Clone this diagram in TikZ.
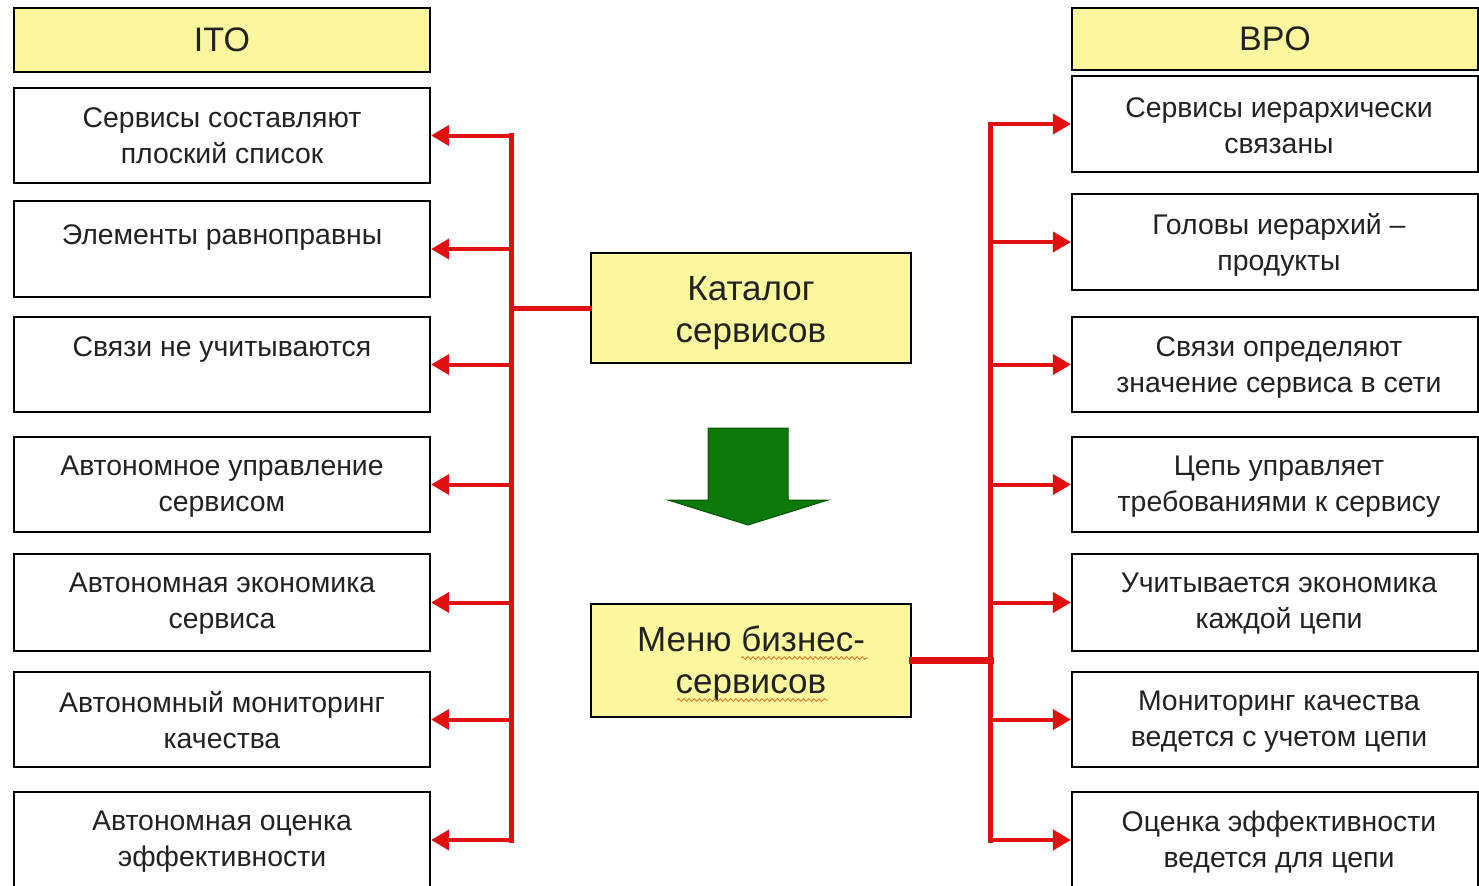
\documentclass[tikz,border=0pt]{standalone}
\usepackage{fontspec}
\setmainfont{Liberation Sans}
\usetikzlibrary{arrows.meta,decorations.pathmorphing}
\definecolor{boxyellow}{HTML}{FAF79E}
\definecolor{linkred}{HTML}{E01010}
\definecolor{arrowgreen}{HTML}{0B7A0B}
\definecolor{inkgray}{HTML}{222222}
\definecolor{spellmark}{HTML}{E07020}

\begin{document}
\begin{tikzpicture}[x=0.5pt,y=-0.5pt,
  frame/.style={draw=black, line width=1.1pt, inner sep=0pt},
  lcol/.style={frame, minimum width=208pt},
  rcol/.style={frame, minimum width=203pt},
  header/.style={fill=boxyellow, font=\fontsize{17}{20}\selectfont, text=inkgray},
  item/.style={fill=white},
  itemtext/.style={anchor=north, align=center, font=\fontsize{14.2}{18}\selectfont, text=inkgray, inner sep=0pt},
  central/.style={frame, fill=boxyellow, minimum width=160pt},
  centraltext/.style={align=center, font=\fontsize{17.5}{21}\selectfont, text=inkgray, inner sep=0pt},
  trunk/.style={draw=linkred, line width=2.5pt, line cap=rect},
  branch/.style={draw=linkred, line width=2pt, -{Triangle[length=9pt,width=10pt]}},
  spell/.style={draw=spellmark, line width=0.4pt, decorate, decoration={snake, amplitude=0.7pt, segment length=2.6pt}},
]
\useasboundingbox (0,0) rectangle (1479,885);
\clip (0,0) rectangle (1479,885);

% left column
\node[lcol, header, minimum height=32pt] (hl) at (222,40) {ITO};
\node[lcol, item, minimum height=47.5pt] (l1) at (222,135.5) {};
\node[lcol, item, minimum height=48pt]   (l2) at (222,249) {};
\node[lcol, item, minimum height=47.5pt] (l3) at (222,364.5) {};
\node[lcol, item, minimum height=47.5pt] (l4) at (222,484.5) {};
\node[lcol, item, minimum height=48.5pt] (l5) at (222,602.5) {};
\node[lcol, item, minimum height=47.5pt] (l6) at (222,719.5) {};
\node[lcol, item, minimum height=48pt]   (l7) at (222,840) {};

\node[itemtext] (tl1) at ([yshift=-10pt]l1.north) {Сервисы составляют\\плоский список};
\node[itemtext] (tl2) at ([yshift=-12pt]l2.north) {Элементы равноправны};
\node[itemtext] (tl3) at ([yshift=-10pt]l3.north) {Связи не учитываются};
\node[itemtext] (tl4) at ([yshift=-10pt]l4.north) {Автономное управление\\сервисом};
\node[itemtext] (tl5) at ([yshift=-10pt]l5.north) {Автономная экономика\\сервиса};
\node[itemtext] (tl6) at ([yshift=-10pt]l6.north) {Автономный мониторинг\\качества};
\node[itemtext] (tl7) at ([yshift=-10pt]l7.north) {Автономная оценка\\эффективности};

% right column
\node[rcol, header, minimum height=31pt] (hr) at (1275,39) {BPO};
\node[rcol, item, minimum height=48pt]   (r1) at (1275,124) {};
\node[rcol, item, minimum height=48pt]   (r2) at (1275,242) {};
\node[rcol, item, minimum height=47.5pt] (r3) at (1275,364.5) {};
\node[rcol, item, minimum height=47.5pt] (r4) at (1275,484.5) {};
\node[rcol, item, minimum height=48.5pt] (r5) at (1275,602.5) {};
\node[rcol, item, minimum height=47.5pt] (r6) at (1275,719.5) {};
\node[rcol, item, minimum height=48pt]   (r7) at (1275,840) {};

\node[itemtext] (tr1) at ([xshift=2pt,yshift=-11pt]r1.north) {Сервисы иерархически\\связаны};
\node[itemtext] (tr2) at ([xshift=2pt,yshift=-10pt]r2.north) {Головы иерархий –\\продукты};
\node[itemtext] (tr3) at ([xshift=2pt,yshift=-10pt]r3.north) {Связи определяют\\значение сервиса в сети};
\node[itemtext] (tr4) at ([xshift=2pt,yshift=-10pt]r4.north) {Цепь управляет\\требованиями к сервису};
\node[itemtext] (tr5) at ([xshift=2pt,yshift=-10pt]r5.north) {Учитывается экономика\\каждой цепи};
\node[itemtext] (tr6) at ([xshift=2pt,yshift=-10pt]r6.north) {Мониторинг качества\\ведется с учетом цепи};
\node[itemtext] (tr7) at ([xshift=2pt,yshift=-10pt]r7.north) {Оценка эффективности\\ведется для цепи};

% central boxes
\node[central, minimum height=55pt] (cat) at (751,308) {};
\node[centraltext] (tcat) at ([yshift=-2.5pt]cat.center) {Каталог\\сервисов};
\node[central, minimum height=56.5pt] (menu) at (751,660.5) {};
\node[centraltext] (tmenu) at ([yshift=-1.5pt]menu.center) {Меню бизнес-\\сервисов};

% spell-check underlines in the menu box
\draw[spell] (741,658) -- (868,658);
\draw[spell] (677,700) -- (828,700);

% block arrow between the central boxes
\filldraw[fill=arrowgreen, draw=arrowgreen!70!black, line width=0.5pt]
  (708,428) -- (788,428) -- (788,500) -- (828,500) -- (748,525)
  -- (668,500) -- (708,500) -- cycle;

% left connectors
\coordinate (tL) at (511,0);
\draw[trunk] (l1.east -| tL) -- (l7.east -| tL);
\draw[trunk] (cat.west) -- (cat.west -| tL);
\foreach \n in {l1,l2,l3,l4,l5,l6,l7}
  \draw[branch] (\n.east -| tL) -- (\n.east);

% right connectors
\coordinate (tR) at (990,0);
\draw[trunk] (r1.west -| tR) -- (r7.west -| tR);
\draw[trunk, line width=3.5pt] (menu.east) -- (menu.east -| tR);
\foreach \n in {r1,r2,r3,r4,r5,r6,r7}
  \draw[branch] (\n.west -| tR) -- (\n.west);
\end{tikzpicture}
\end{document}
